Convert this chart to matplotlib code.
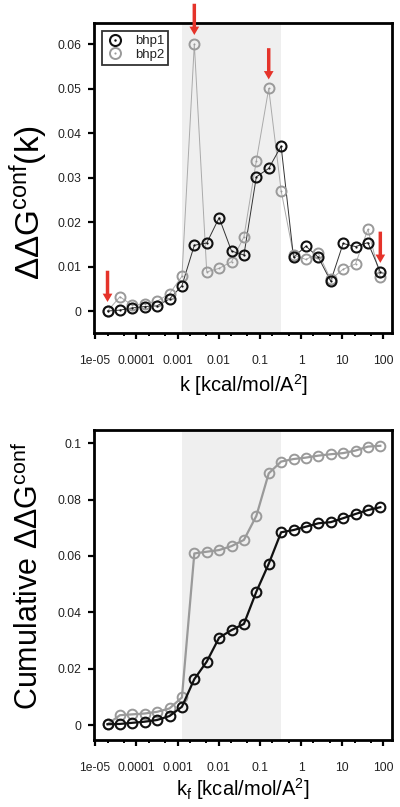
import matplotlib
matplotlib.use("Agg")
import matplotlib.pyplot as plt
from matplotlib.ticker import FixedLocator, NullFormatter, FixedFormatter
from matplotlib.legend_handler import HandlerTuple

plt.rcParams['font.family'] = ['Liberation Sans', 'DejaVu Sans']
plt.rcParams['mathtext.fontset'] = 'custom'
plt.rcParams['mathtext.rm'] = 'Liberation Sans'
plt.rcParams['mathtext.it'] = 'Liberation Sans'
plt.rcParams['mathtext.bf'] = 'Liberation Sans'

# ---------------- data ----------------
k = [2e-05, 4e-05, 8e-05, 0.00016, 0.00032, 0.00064, 0.00128, 0.00256, 0.00512,
     0.01024, 0.02048, 0.04096, 0.08192, 0.16384, 0.32768, 0.65536, 1.31072,
     2.62144, 5.24288, 10.48576, 20.97152, 41.94304, 83.88608]

ddg_bhp1 = [0.0000, 0.0002, 0.0007, 0.0010, 0.0012, 0.0027, 0.0057, 0.0148, 0.0153,
            0.0210, 0.0135, 0.0126, 0.0302, 0.0321, 0.0371, 0.0121, 0.0146, 0.0121,
            0.0067, 0.0152, 0.0145, 0.0154, 0.0088]
ddg_bhp2 = [0.0000, 0.0032, 0.0013, 0.0016, 0.0022, 0.0039, 0.0078, 0.0601, 0.0088,
            0.0096, 0.0111, 0.0167, 0.0338, 0.0501, 0.0271, 0.0126, 0.0116, 0.0130,
            0.0071, 0.0094, 0.0106, 0.0184, 0.0076]

cum_bhp1 = [0.0003, 0.0004, 0.0008, 0.0012, 0.0018, 0.0032, 0.0065, 0.0163, 0.0225,
            0.0310, 0.0337, 0.0359, 0.0473, 0.0572, 0.0684, 0.0692, 0.0704, 0.0716,
            0.0720, 0.0734, 0.0749, 0.0763, 0.0773]
cum_bhp2 = [0.0003, 0.0035, 0.0038, 0.0041, 0.0047, 0.0059, 0.0098, 0.0609, 0.0615,
            0.0621, 0.0635, 0.0657, 0.0742, 0.0893, 0.0935, 0.0944, 0.0949, 0.0956,
            0.0961, 0.0965, 0.0974, 0.0988, 0.0991]

series_names = ['bhp1', 'bhp2']
arrow_idx = [0, 7, 13, 22]
arrow_series = [ddg_bhp1, ddg_bhp2, ddg_bhp2, ddg_bhp1]
shade_lo, shade_hi = 6, 14

xticks = [1e-05, 1e-04, 1e-03, 1e-02, 1e-01, 1, 10, 100]
xticklabels = ['1e-05', '0.0001', '0.001', '0.01', '0.1', '1', '10', '100']
yticks_top = [0, 0.01, 0.02, 0.03, 0.04, 0.05, 0.06]
yticklabels_top = ['0', '0.01', '0.02', '0.03', '0.04', '0.05', '0.06']
yticks_bot = [0, 0.02, 0.04, 0.06, 0.08, 0.1]
yticklabels_bot = ['0', '0.02', '0.04', '0.06', '0.08', '0.1']

# ---------------- style ----------------
BLACK = '#111111'
GRAY = '#9a9a9a'
LGRAY = '#aaaaaa'
SHADE = '#efefef'
RED = '#e5332a'
TXT = '#222222'

W, H = 400, 807
fig = plt.figure(figsize=(W / 100, H / 100), dpi=100)

def px_axes(l, t, r, b):
    return fig.add_axes([l / W, 1 - b / H, (r - l) / W, (b - t) / H])

ax1 = px_axes(94.3, 22.7, 391.7, 333.0)
ax2 = px_axes(94.3, 430.0, 391.7, 740.0)

minor = []
for d in range(-6, 3):
    for m in (2, 5):
        minor.append(m * 10.0 ** d)

def style_axis(ax, yticks, ylabels):
    ax.set_xscale('log')
    ax.set_xlim(10 ** -5.02, 10 ** 2.2)
    ax.xaxis.set_major_locator(FixedLocator(xticks))
    ax.xaxis.set_major_formatter(FixedFormatter(xticklabels))
    ax.xaxis.set_minor_locator(FixedLocator(minor))
    ax.xaxis.set_minor_formatter(NullFormatter())
    ax.set_yticks(yticks)
    ax.set_yticklabels(ylabels)
    for s in ax.spines.values():
        s.set_linewidth(2.0)
        s.set_color('black')
    ax.tick_params(axis='both', which='major', direction='out', length=4.5,
                   width=1.6, labelsize=8.7, labelcolor=TXT, color='black')
    ax.tick_params(axis='x', which='major', pad=11.5)
    ax.tick_params(axis='y', which='major', pad=5)
    ax.tick_params(axis='x', which='minor', direction='out', length=2.5, width=1.4,
                   color='black')
    ax.axvspan(k[shade_lo], k[shade_hi], color=SHADE, zorder=0, lw=0)

# ---------------- top panel ----------------
style_axis(ax1, yticks_top, yticklabels_top)
ax1.set_ylim(-0.00495, 0.0649)

ax1.plot(k, ddg_bhp2, '-', color=LGRAY, lw=0.7, zorder=2)
ax1.plot(k, ddg_bhp1, '-', color='#333333', lw=0.7, zorder=3)
c2, = ax1.plot(k, ddg_bhp2, 'o', ms=7.2, mfc='none', mec=GRAY, mew=1.4, zorder=4)
d2, = ax1.plot(k, ddg_bhp2, 'o', ms=1.4, mfc=GRAY, mec=GRAY, mew=0, zorder=4)
c1, = ax1.plot(k, ddg_bhp1, 'o', ms=7.2, mfc='none', mec=BLACK, mew=1.5, zorder=5)
d1, = ax1.plot(k, ddg_bhp1, 'o', ms=1.6, mfc=BLACK, mec=BLACK, mew=0, zorder=5)

for i, ser in zip(arrow_idx, arrow_series):
    ax1.annotate('', xy=(k[i], ser[i]), xytext=(0, 29), textcoords='offset points',
                 annotation_clip=False,
                 arrowprops=dict(arrowstyle='simple,head_length=0.6,head_width=0.7,tail_width=0.25',
                                 mutation_scale=10, color=RED, lw=0,
                                 shrinkA=0, shrinkB=6.5),
                 zorder=10)

leg = ax1.legend([(c1, d1), (c2, d2)], series_names,
                 handler_map={tuple: HandlerTuple(ndivide=1)},
                 loc='upper left', bbox_to_anchor=(0.026, 0.973), borderaxespad=0,
                 fontsize=9.5, frameon=True, fancybox=False, handlelength=1.3,
                 handletextpad=0.9, borderpad=0.3, labelspacing=0.1, markerscale=1.1)
leg.get_frame().set_edgecolor('black')
leg.get_frame().set_linewidth(1.3)
for t in leg.get_texts():
    t.set_color(TXT)

ax1.set_xlabel(r'k [kcal/mol/A$^{2}$]', fontsize=14.5, color='black')
ax1.xaxis.set_label_coords(0.5, -0.126)
ax1.xaxis.label.set_verticalalignment('top')
ax1.set_ylabel(r'$\mathregular{\Delta\Delta G^{conf}(k)}$', fontsize=24, color='black')
ax1.yaxis.set_label_coords(-0.149, 0.42)

# ---------------- bottom panel ----------------
style_axis(ax2, yticks_bot, yticklabels_bot)
ax2.set_ylim(-0.0053, 0.1047)

ax2.plot(k, cum_bhp2, '-o', color=GRAY, lw=1.6, ms=7.0, mfc='none', mec=GRAY,
         mew=1.4, zorder=3)
ax2.plot(k, cum_bhp1, '-o', color=BLACK, lw=1.6, ms=7.0, mfc='none', mec=BLACK,
         mew=1.5, zorder=4)

ax2.set_xlabel(r'k$_\mathregular{f}$ [kcal/mol/A$^{2}$]', fontsize=14.5, color='black')
ax2.xaxis.set_label_coords(0.5, -0.116)
ax2.set_ylabel(r'Cumulative $\mathregular{\Delta\Delta G^{conf}}$', fontsize=22, color='black')
ax2.yaxis.set_label_coords(-0.166, 0.53)

fig.savefig('out.png', dpi=100)
